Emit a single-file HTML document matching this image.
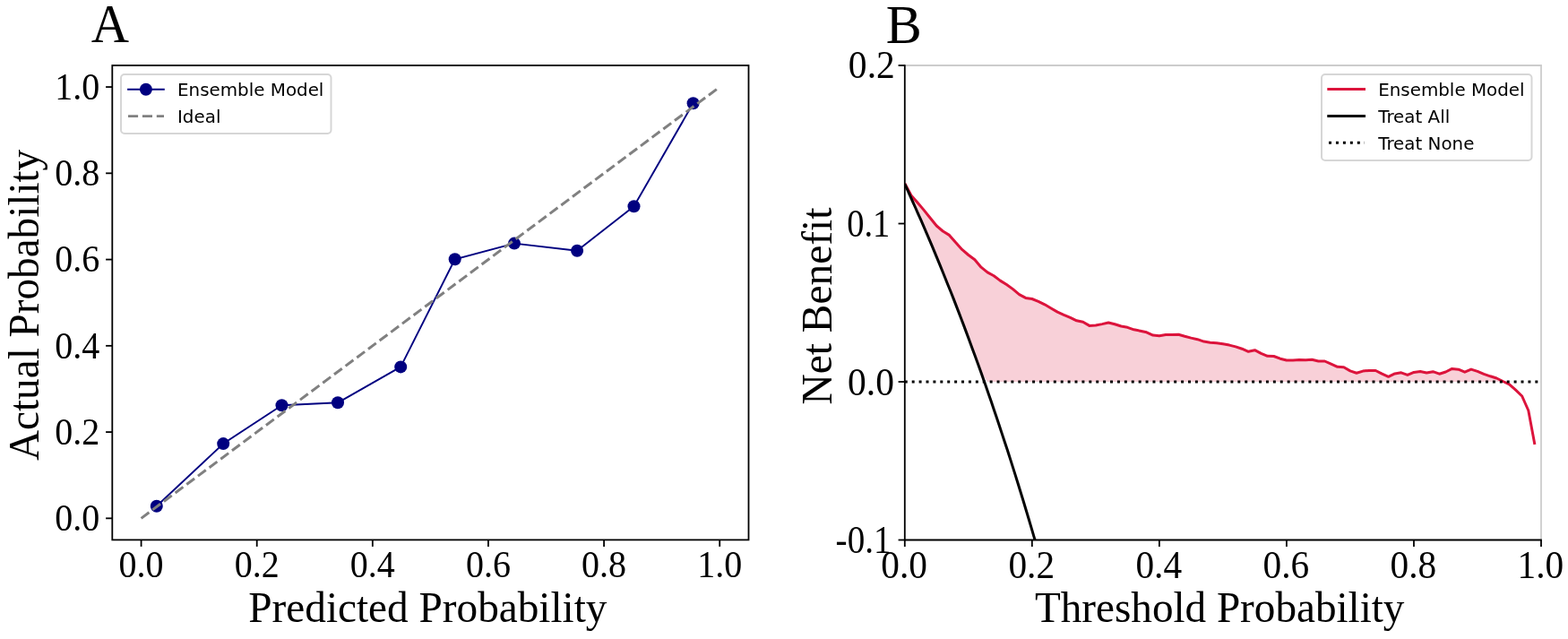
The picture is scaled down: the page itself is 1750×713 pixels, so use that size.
<!DOCTYPE html>
<html lang="en"><head><meta charset="utf-8"><title>Calibration and decision curve</title>
<style>
html,body{margin:0;padding:0;background:#fff;}
body{width:1750px;height:713px;overflow:hidden;}
svg{display:block;}
text{white-space:pre;}
</style></head><body>
<svg width="1750" height="713" viewBox="0 0 1750 713">
<rect width="1750" height="713" fill="#fff"/>
<g id="plotA">
<polyline fill="none" stroke="#000080" stroke-width="1.9" stroke-linejoin="round" points="174.8,564.7 249.2,495.1 314.5,452.2 377.0,449.3 447.2,409.4 507.7,289.3 574.0,271.6 644.1,279.8 707.5,230.2 773.6,115.3"/>
<circle cx="174.8" cy="564.7" r="7.0" fill="#000080"/>
<circle cx="249.2" cy="495.1" r="7.0" fill="#000080"/>
<circle cx="314.5" cy="452.2" r="7.0" fill="#000080"/>
<circle cx="377.0" cy="449.3" r="7.0" fill="#000080"/>
<circle cx="447.2" cy="409.4" r="7.0" fill="#000080"/>
<circle cx="507.7" cy="289.3" r="7.0" fill="#000080"/>
<circle cx="574.0" cy="271.6" r="7.0" fill="#000080"/>
<circle cx="644.1" cy="279.8" r="7.0" fill="#000080"/>
<circle cx="707.5" cy="230.2" r="7.0" fill="#000080"/>
<circle cx="773.6" cy="115.3" r="7.0" fill="#000080"/>
<line x1="157.58" y1="578.34" x2="803.22" y2="97.06" stroke="#808080" stroke-width="3" stroke-dasharray="11.03 4.77" fill="none"/>
<rect x="125.3" y="73.0" width="710.20" height="529.40" fill="none" stroke="#000" stroke-width="1.8"/>
<line x1="157.58" y1="602.40" x2="157.58" y2="609.90" stroke="#000" stroke-width="1.8" />
<line x1="118.10" y1="578.34" x2="125.30" y2="578.34" stroke="#000" stroke-width="1.8" />
<text x="157.58" y="644.30" font-size="41.5" text-anchor="middle" font-family='"Liberation Serif", serif' fill="#000" textLength="50.00" lengthAdjust="spacingAndGlyphs">0.0</text>
<text x="111.20" y="592.14" font-size="41.5" text-anchor="end" font-family='"Liberation Serif", serif' fill="#000" textLength="50.00" lengthAdjust="spacingAndGlyphs">0.0</text>
<line x1="286.71" y1="602.40" x2="286.71" y2="609.90" stroke="#000" stroke-width="1.8" />
<line x1="118.10" y1="482.08" x2="125.30" y2="482.08" stroke="#000" stroke-width="1.8" />
<text x="286.71" y="644.30" font-size="41.5" text-anchor="middle" font-family='"Liberation Serif", serif' fill="#000" textLength="50.00" lengthAdjust="spacingAndGlyphs">0.2</text>
<text x="111.20" y="495.88" font-size="41.5" text-anchor="end" font-family='"Liberation Serif", serif' fill="#000" textLength="50.00" lengthAdjust="spacingAndGlyphs">0.2</text>
<line x1="415.84" y1="602.40" x2="415.84" y2="609.90" stroke="#000" stroke-width="1.8" />
<line x1="118.10" y1="385.83" x2="125.30" y2="385.83" stroke="#000" stroke-width="1.8" />
<text x="415.84" y="644.30" font-size="41.5" text-anchor="middle" font-family='"Liberation Serif", serif' fill="#000" textLength="50.00" lengthAdjust="spacingAndGlyphs">0.4</text>
<text x="111.20" y="399.63" font-size="41.5" text-anchor="end" font-family='"Liberation Serif", serif' fill="#000" textLength="50.00" lengthAdjust="spacingAndGlyphs">0.4</text>
<line x1="544.96" y1="602.40" x2="544.96" y2="609.90" stroke="#000" stroke-width="1.8" />
<line x1="118.10" y1="289.57" x2="125.30" y2="289.57" stroke="#000" stroke-width="1.8" />
<text x="544.96" y="644.30" font-size="41.5" text-anchor="middle" font-family='"Liberation Serif", serif' fill="#000" textLength="50.00" lengthAdjust="spacingAndGlyphs">0.6</text>
<text x="111.20" y="303.37" font-size="41.5" text-anchor="end" font-family='"Liberation Serif", serif' fill="#000" textLength="50.00" lengthAdjust="spacingAndGlyphs">0.6</text>
<line x1="674.09" y1="602.40" x2="674.09" y2="609.90" stroke="#000" stroke-width="1.8" />
<line x1="118.10" y1="193.32" x2="125.30" y2="193.32" stroke="#000" stroke-width="1.8" />
<text x="674.09" y="644.30" font-size="41.5" text-anchor="middle" font-family='"Liberation Serif", serif' fill="#000" textLength="50.00" lengthAdjust="spacingAndGlyphs">0.8</text>
<text x="111.20" y="207.12" font-size="41.5" text-anchor="end" font-family='"Liberation Serif", serif' fill="#000" textLength="50.00" lengthAdjust="spacingAndGlyphs">0.8</text>
<line x1="803.22" y1="602.40" x2="803.22" y2="609.90" stroke="#000" stroke-width="1.8" />
<line x1="118.10" y1="97.06" x2="125.30" y2="97.06" stroke="#000" stroke-width="1.8" />
<text x="803.22" y="644.30" font-size="41.5" text-anchor="middle" font-family='"Liberation Serif", serif' fill="#000" textLength="50.00" lengthAdjust="spacingAndGlyphs">1.0</text>
<text x="111.20" y="110.86" font-size="41.5" text-anchor="end" font-family='"Liberation Serif", serif' fill="#000" textLength="50.00" lengthAdjust="spacingAndGlyphs">1.0</text>
<text x="477.40" y="693.60" font-size="48.0" text-anchor="middle" font-family='"Liberation Serif", serif' fill="#000" textLength="400.20" lengthAdjust="spacingAndGlyphs">Predicted Probability</text>
<text transform="translate(43.00,340.40) rotate(-90)" x="0" y="0" font-size="48.4" text-anchor="middle" font-family='"Liberation Serif", serif' fill="#000" textLength="347.20" lengthAdjust="spacingAndGlyphs">Actual Probability</text>
<text x="101.80" y="47.30" font-size="61.2" text-anchor="start" font-family='"Liberation Serif", serif' fill="#000" textLength="42.30" lengthAdjust="spacingAndGlyphs">A</text>
<rect x="135" y="83" width="234.5" height="66" rx="4" ry="4" fill="#fff" fill-opacity="0.8" stroke="#ccc" stroke-opacity="0.8" stroke-width="2"/>
<line x1="142.10" y1="99.70" x2="183.80" y2="99.70" stroke="#000080" stroke-width="1.9" />
<circle cx="162.9" cy="99.7" r="7.0" fill="#000080"/>
<line x1="143" y1="129.6" x2="183" y2="129.6" stroke="#808080" stroke-width="2.9" stroke-dasharray="11.1 4.8"/>
<text x="198.00" y="106.60" font-size="20.2" text-anchor="start" font-family='"DejaVu Sans", "Liberation Sans", sans-serif' fill="#000" textLength="163.40" lengthAdjust="spacingAndGlyphs">Ensemble Model</text>
<text x="198.00" y="137.00" font-size="20.2" text-anchor="start" font-family='"DejaVu Sans", "Liberation Sans", sans-serif' fill="#000" textLength="48.40" lengthAdjust="spacingAndGlyphs">Ideal</text>
</g>
<g id="plotB">
<clipPath id="clipB"><rect x="1009.8" y="73.0" width="710.20" height="529.50"/></clipPath>
<polygon fill="#DC143C" fill-opacity="0.2" stroke="none" points="1009.8,204.6 1016.9,217.9 1024.0,226.0 1031.1,234.4 1038.2,243.2 1045.3,252.0 1052.4,258.0 1059.5,262.4 1066.6,270.6 1073.7,278.4 1080.8,284.5 1087.9,289.8 1095.0,298.2 1102.1,303.9 1109.2,307.8 1116.3,313.1 1123.4,317.5 1130.5,322.6 1137.6,328.6 1144.7,332.4 1151.8,333.5 1158.9,336.3 1166.0,339.8 1173.1,344.0 1180.2,348.1 1187.3,351.3 1194.5,354.3 1201.6,357.8 1208.7,359.3 1215.8,363.4 1222.9,363.0 1230.0,361.6 1237.1,360.0 1244.2,361.7 1251.3,364.0 1258.4,365.3 1265.5,367.8 1272.6,369.2 1279.7,370.8 1286.8,374.1 1293.9,374.8 1301.0,373.5 1308.1,373.6 1315.2,373.2 1322.3,375.3 1329.4,377.1 1336.5,378.7 1343.6,381.1 1350.7,382.2 1357.8,382.8 1364.9,383.8 1372.0,385.1 1379.1,386.9 1386.2,389.2 1393.3,392.3 1400.4,390.7 1407.5,394.4 1414.6,397.3 1421.7,397.5 1428.8,400.2 1435.9,402.0 1443.0,402.0 1450.1,401.5 1457.2,401.7 1464.3,401.2 1471.4,403.0 1478.5,403.0 1485.6,406.2 1492.7,409.3 1499.8,409.8 1506.9,413.9 1514.0,416.2 1521.1,414.1 1528.2,413.4 1535.3,413.5 1542.5,417.2 1549.6,420.3 1556.7,416.9 1563.8,415.8 1570.9,418.4 1578.0,415.4 1585.1,414.5 1592.2,416.0 1599.3,414.7 1606.4,417.2 1613.5,415.0 1620.6,411.4 1627.7,412.2 1634.8,415.2 1641.9,412.1 1649.0,414.4 1656.1,417.4 1663.2,419.8 1670.3,422.0 1677.4,425.5 1678.5,426.0 1678.5,426.0 1677.4,426.0 1670.3,426.0 1663.2,426.0 1656.1,426.0 1649.0,426.0 1641.9,426.0 1634.8,426.0 1627.7,426.0 1620.6,426.0 1613.5,426.0 1606.4,426.0 1599.3,426.0 1592.2,426.0 1585.1,426.0 1578.0,426.0 1570.9,426.0 1563.8,426.0 1556.7,426.0 1549.6,426.0 1542.5,426.0 1535.3,426.0 1528.2,426.0 1521.1,426.0 1514.0,426.0 1506.9,426.0 1499.8,426.0 1492.7,426.0 1485.6,426.0 1478.5,426.0 1471.4,426.0 1464.3,426.0 1457.2,426.0 1450.1,426.0 1443.0,426.0 1435.9,426.0 1428.8,426.0 1421.7,426.0 1414.6,426.0 1407.5,426.0 1400.4,426.0 1393.3,426.0 1386.2,426.0 1379.1,426.0 1372.0,426.0 1364.9,426.0 1357.8,426.0 1350.7,426.0 1343.6,426.0 1336.5,426.0 1329.4,426.0 1322.3,426.0 1315.2,426.0 1308.1,426.0 1301.0,426.0 1293.9,426.0 1286.8,426.0 1279.7,426.0 1272.6,426.0 1265.5,426.0 1258.4,426.0 1251.3,426.0 1244.2,426.0 1237.1,426.0 1230.0,426.0 1222.9,426.0 1215.8,426.0 1208.7,426.0 1201.6,426.0 1194.5,426.0 1187.3,426.0 1180.2,426.0 1173.1,426.0 1166.0,426.0 1158.9,426.0 1151.8,426.0 1144.7,426.0 1137.6,426.0 1130.5,426.0 1123.4,426.0 1116.3,426.0 1109.2,426.0 1102.1,426.0 1095.0,416.0 1087.9,396.3 1080.8,377.0 1073.7,358.1 1066.6,339.7 1059.5,321.6 1052.4,304.0 1045.3,286.7 1038.2,269.7 1031.1,253.1 1024.0,236.9 1016.9,221.0 1009.8,205.4"/>
<line x1="1009.80" y1="73.00" x2="1720.90" y2="73.00" stroke="#cccccc" stroke-width="1.8" />
<line x1="1720.00" y1="73.00" x2="1720.00" y2="602.50" stroke="#cccccc" stroke-width="1.8" />
<polyline clip-path="url(#clipB)" fill="none" stroke="#DC143C" stroke-width="3" stroke-linejoin="round" points="1009.8,204.6 1016.9,217.9 1024.0,226.0 1031.1,234.4 1038.2,243.2 1045.3,252.0 1052.4,258.0 1059.5,262.4 1066.6,270.6 1073.7,278.4 1080.8,284.5 1087.9,289.8 1095.0,298.2 1102.1,303.9 1109.2,307.8 1116.3,313.1 1123.4,317.5 1130.5,322.6 1137.6,328.6 1144.7,332.4 1151.8,333.5 1158.9,336.3 1166.0,339.8 1173.1,344.0 1180.2,348.1 1187.3,351.3 1194.5,354.3 1201.6,357.8 1208.7,359.3 1215.8,363.4 1222.9,363.0 1230.0,361.6 1237.1,360.0 1244.2,361.7 1251.3,364.0 1258.4,365.3 1265.5,367.8 1272.6,369.2 1279.7,370.8 1286.8,374.1 1293.9,374.8 1301.0,373.5 1308.1,373.6 1315.2,373.2 1322.3,375.3 1329.4,377.1 1336.5,378.7 1343.6,381.1 1350.7,382.2 1357.8,382.8 1364.9,383.8 1372.0,385.1 1379.1,386.9 1386.2,389.2 1393.3,392.3 1400.4,390.7 1407.5,394.4 1414.6,397.3 1421.7,397.5 1428.8,400.2 1435.9,402.0 1443.0,402.0 1450.1,401.5 1457.2,401.7 1464.3,401.2 1471.4,403.0 1478.5,403.0 1485.6,406.2 1492.7,409.3 1499.8,409.8 1506.9,413.9 1514.0,416.2 1521.1,414.1 1528.2,413.4 1535.3,413.5 1542.5,417.2 1549.6,420.3 1556.7,416.9 1563.8,415.8 1570.9,418.4 1578.0,415.4 1585.1,414.5 1592.2,416.0 1599.3,414.7 1606.4,417.2 1613.5,415.0 1620.6,411.4 1627.7,412.2 1634.8,415.2 1641.9,412.1 1649.0,414.4 1656.1,417.4 1663.2,419.8 1670.3,422.0 1677.4,425.5 1684.5,428.8 1691.6,435.2 1698.7,442.0 1705.8,458.0 1712.9,496.0"/>
<polyline clip-path="url(#clipB)" fill="none" stroke="#000" stroke-width="3" stroke-linejoin="round" points="1009.8,205.4 1012.8,211.9 1015.8,218.6 1018.8,225.3 1021.8,232.0 1024.8,238.8 1027.9,245.7 1030.9,252.6 1033.9,259.6 1036.9,266.6 1039.9,273.7 1042.9,280.9 1045.9,288.1 1048.9,295.4 1051.9,302.8 1054.9,310.2 1057.9,317.7 1061.0,325.3 1064.0,332.9 1067.0,340.6 1070.0,348.4 1073.0,356.2 1076.0,364.1 1079.0,372.1 1082.0,380.2 1085.0,388.4 1088.0,396.6 1091.1,404.9 1094.1,413.3 1097.1,421.7 1100.1,430.3 1103.1,438.9 1106.1,447.6 1109.1,456.4 1112.1,465.3 1115.1,474.3 1118.1,483.4 1121.1,492.5 1124.2,501.8 1127.2,511.1 1130.2,520.6 1133.2,530.1 1136.2,539.7 1139.2,549.5 1142.2,559.3 1145.2,569.2 1148.2,579.3 1151.2,589.4 1154.2,599.7 1157.3,610.1 1160.3,620.5 1163.3,631.1 1166.3,641.8 1169.3,652.7 1172.3,663.6 1175.3,674.7 1178.3,685.8 1181.3,697.2 1184.3,708.6 1187.3,720.2"/>
<line x1="1009.80" y1="426.00" x2="1720.00" y2="426.00" stroke="#000" stroke-width="3" stroke-dasharray="2.98 4.925" clip-path="url(#clipB)"/>
<line x1="1009.80" y1="72.20" x2="1009.80" y2="603.30" stroke="#000" stroke-width="1.8" />
<line x1="1009.00" y1="602.50" x2="1720.80" y2="602.50" stroke="#000" stroke-width="1.8" />
<line x1="1009.80" y1="602.50" x2="1009.80" y2="610.00" stroke="#000" stroke-width="1.8" />
<text x="1009.20" y="645.40" font-size="43.5" text-anchor="middle" font-family='"Liberation Serif", serif' fill="#000" textLength="51.66" lengthAdjust="spacingAndGlyphs">0.0</text>
<line x1="1151.84" y1="602.50" x2="1151.84" y2="610.00" stroke="#000" stroke-width="1.8" />
<text x="1151.24" y="645.40" font-size="43.5" text-anchor="middle" font-family='"Liberation Serif", serif' fill="#000" textLength="51.66" lengthAdjust="spacingAndGlyphs">0.2</text>
<line x1="1293.88" y1="602.50" x2="1293.88" y2="610.00" stroke="#000" stroke-width="1.8" />
<text x="1293.28" y="645.40" font-size="43.5" text-anchor="middle" font-family='"Liberation Serif", serif' fill="#000" textLength="51.66" lengthAdjust="spacingAndGlyphs">0.4</text>
<line x1="1435.92" y1="602.50" x2="1435.92" y2="610.00" stroke="#000" stroke-width="1.8" />
<text x="1435.32" y="645.40" font-size="43.5" text-anchor="middle" font-family='"Liberation Serif", serif' fill="#000" textLength="51.66" lengthAdjust="spacingAndGlyphs">0.6</text>
<line x1="1577.96" y1="602.50" x2="1577.96" y2="610.00" stroke="#000" stroke-width="1.8" />
<text x="1577.36" y="645.40" font-size="43.5" text-anchor="middle" font-family='"Liberation Serif", serif' fill="#000" textLength="51.66" lengthAdjust="spacingAndGlyphs">0.8</text>
<line x1="1720.00" y1="602.50" x2="1720.00" y2="610.00" stroke="#000" stroke-width="1.8" />
<text x="1719.40" y="645.40" font-size="43.5" text-anchor="middle" font-family='"Liberation Serif", serif' fill="#000" textLength="51.66" lengthAdjust="spacingAndGlyphs">1.0</text>
<line x1="1002.60" y1="602.50" x2="1009.80" y2="602.50" stroke="#000" stroke-width="1.8" />
<text x="994.60" y="617.10" font-size="43.5" text-anchor="end" font-family='"Liberation Serif", serif' fill="#000" textLength="61.98" lengthAdjust="spacingAndGlyphs">-0.1</text>
<line x1="1002.60" y1="426.00" x2="1009.80" y2="426.00" stroke="#000" stroke-width="1.8" />
<text x="997.90" y="441.10" font-size="43.5" text-anchor="end" font-family='"Liberation Serif", serif' fill="#000" textLength="51.93" lengthAdjust="spacingAndGlyphs">0.0</text>
<line x1="1002.60" y1="249.50" x2="1009.80" y2="249.50" stroke="#000" stroke-width="1.8" />
<text x="993.30" y="263.50" font-size="43.5" text-anchor="end" font-family='"Liberation Serif", serif' fill="#000" textLength="48.12" lengthAdjust="spacingAndGlyphs">0.1</text>
<line x1="1002.60" y1="73.00" x2="1009.80" y2="73.00" stroke="#000" stroke-width="1.8" />
<text x="998.80" y="86.60" font-size="43.5" text-anchor="end" font-family='"Liberation Serif", serif' fill="#000" textLength="51.93" lengthAdjust="spacingAndGlyphs">0.2</text>
<text x="1361.20" y="693.60" font-size="48.0" text-anchor="middle" font-family='"Liberation Serif", serif' fill="#000" textLength="412.40" lengthAdjust="spacingAndGlyphs">Threshold Probability</text>
<text transform="translate(927.50,341.60) rotate(-90)" x="0" y="0" font-size="48.4" text-anchor="middle" font-family='"Liberation Serif", serif' fill="#000" textLength="220.00" lengthAdjust="spacingAndGlyphs">Net Benefit</text>
<text x="988.70" y="48.30" font-size="60.4" text-anchor="start" font-family='"Liberation Serif", serif' fill="#000" textLength="40.02" lengthAdjust="spacingAndGlyphs">B</text>
<rect x="1475" y="83" width="234.5" height="96" rx="4" ry="4" fill="#fff" fill-opacity="0.8" stroke="#ccc" stroke-opacity="0.8" stroke-width="2"/>
<line x1="1481.30" y1="99.60" x2="1524.00" y2="99.60" stroke="#DC143C" stroke-width="3" />
<line x1="1481.30" y1="129.40" x2="1524.00" y2="129.40" stroke="#000" stroke-width="3" />
<line x1="1483" y1="159.2" x2="1523" y2="159.2" stroke="#000" stroke-width="3" stroke-dasharray="3 4.95"/>
<text x="1538.20" y="106.60" font-size="20.2" text-anchor="start" font-family='"DejaVu Sans", "Liberation Sans", sans-serif' fill="#000" textLength="163.40" lengthAdjust="spacingAndGlyphs">Ensemble Model</text>
<text x="1538.20" y="136.80" font-size="20.2" text-anchor="start" font-family='"DejaVu Sans", "Liberation Sans", sans-serif' fill="#000" textLength="80.00" lengthAdjust="spacingAndGlyphs">Treat All</text>
<text x="1538.20" y="166.80" font-size="20.2" text-anchor="start" font-family='"DejaVu Sans", "Liberation Sans", sans-serif' fill="#000" textLength="107.20" lengthAdjust="spacingAndGlyphs">Treat None</text>
</g>
</svg>
</body></html>
